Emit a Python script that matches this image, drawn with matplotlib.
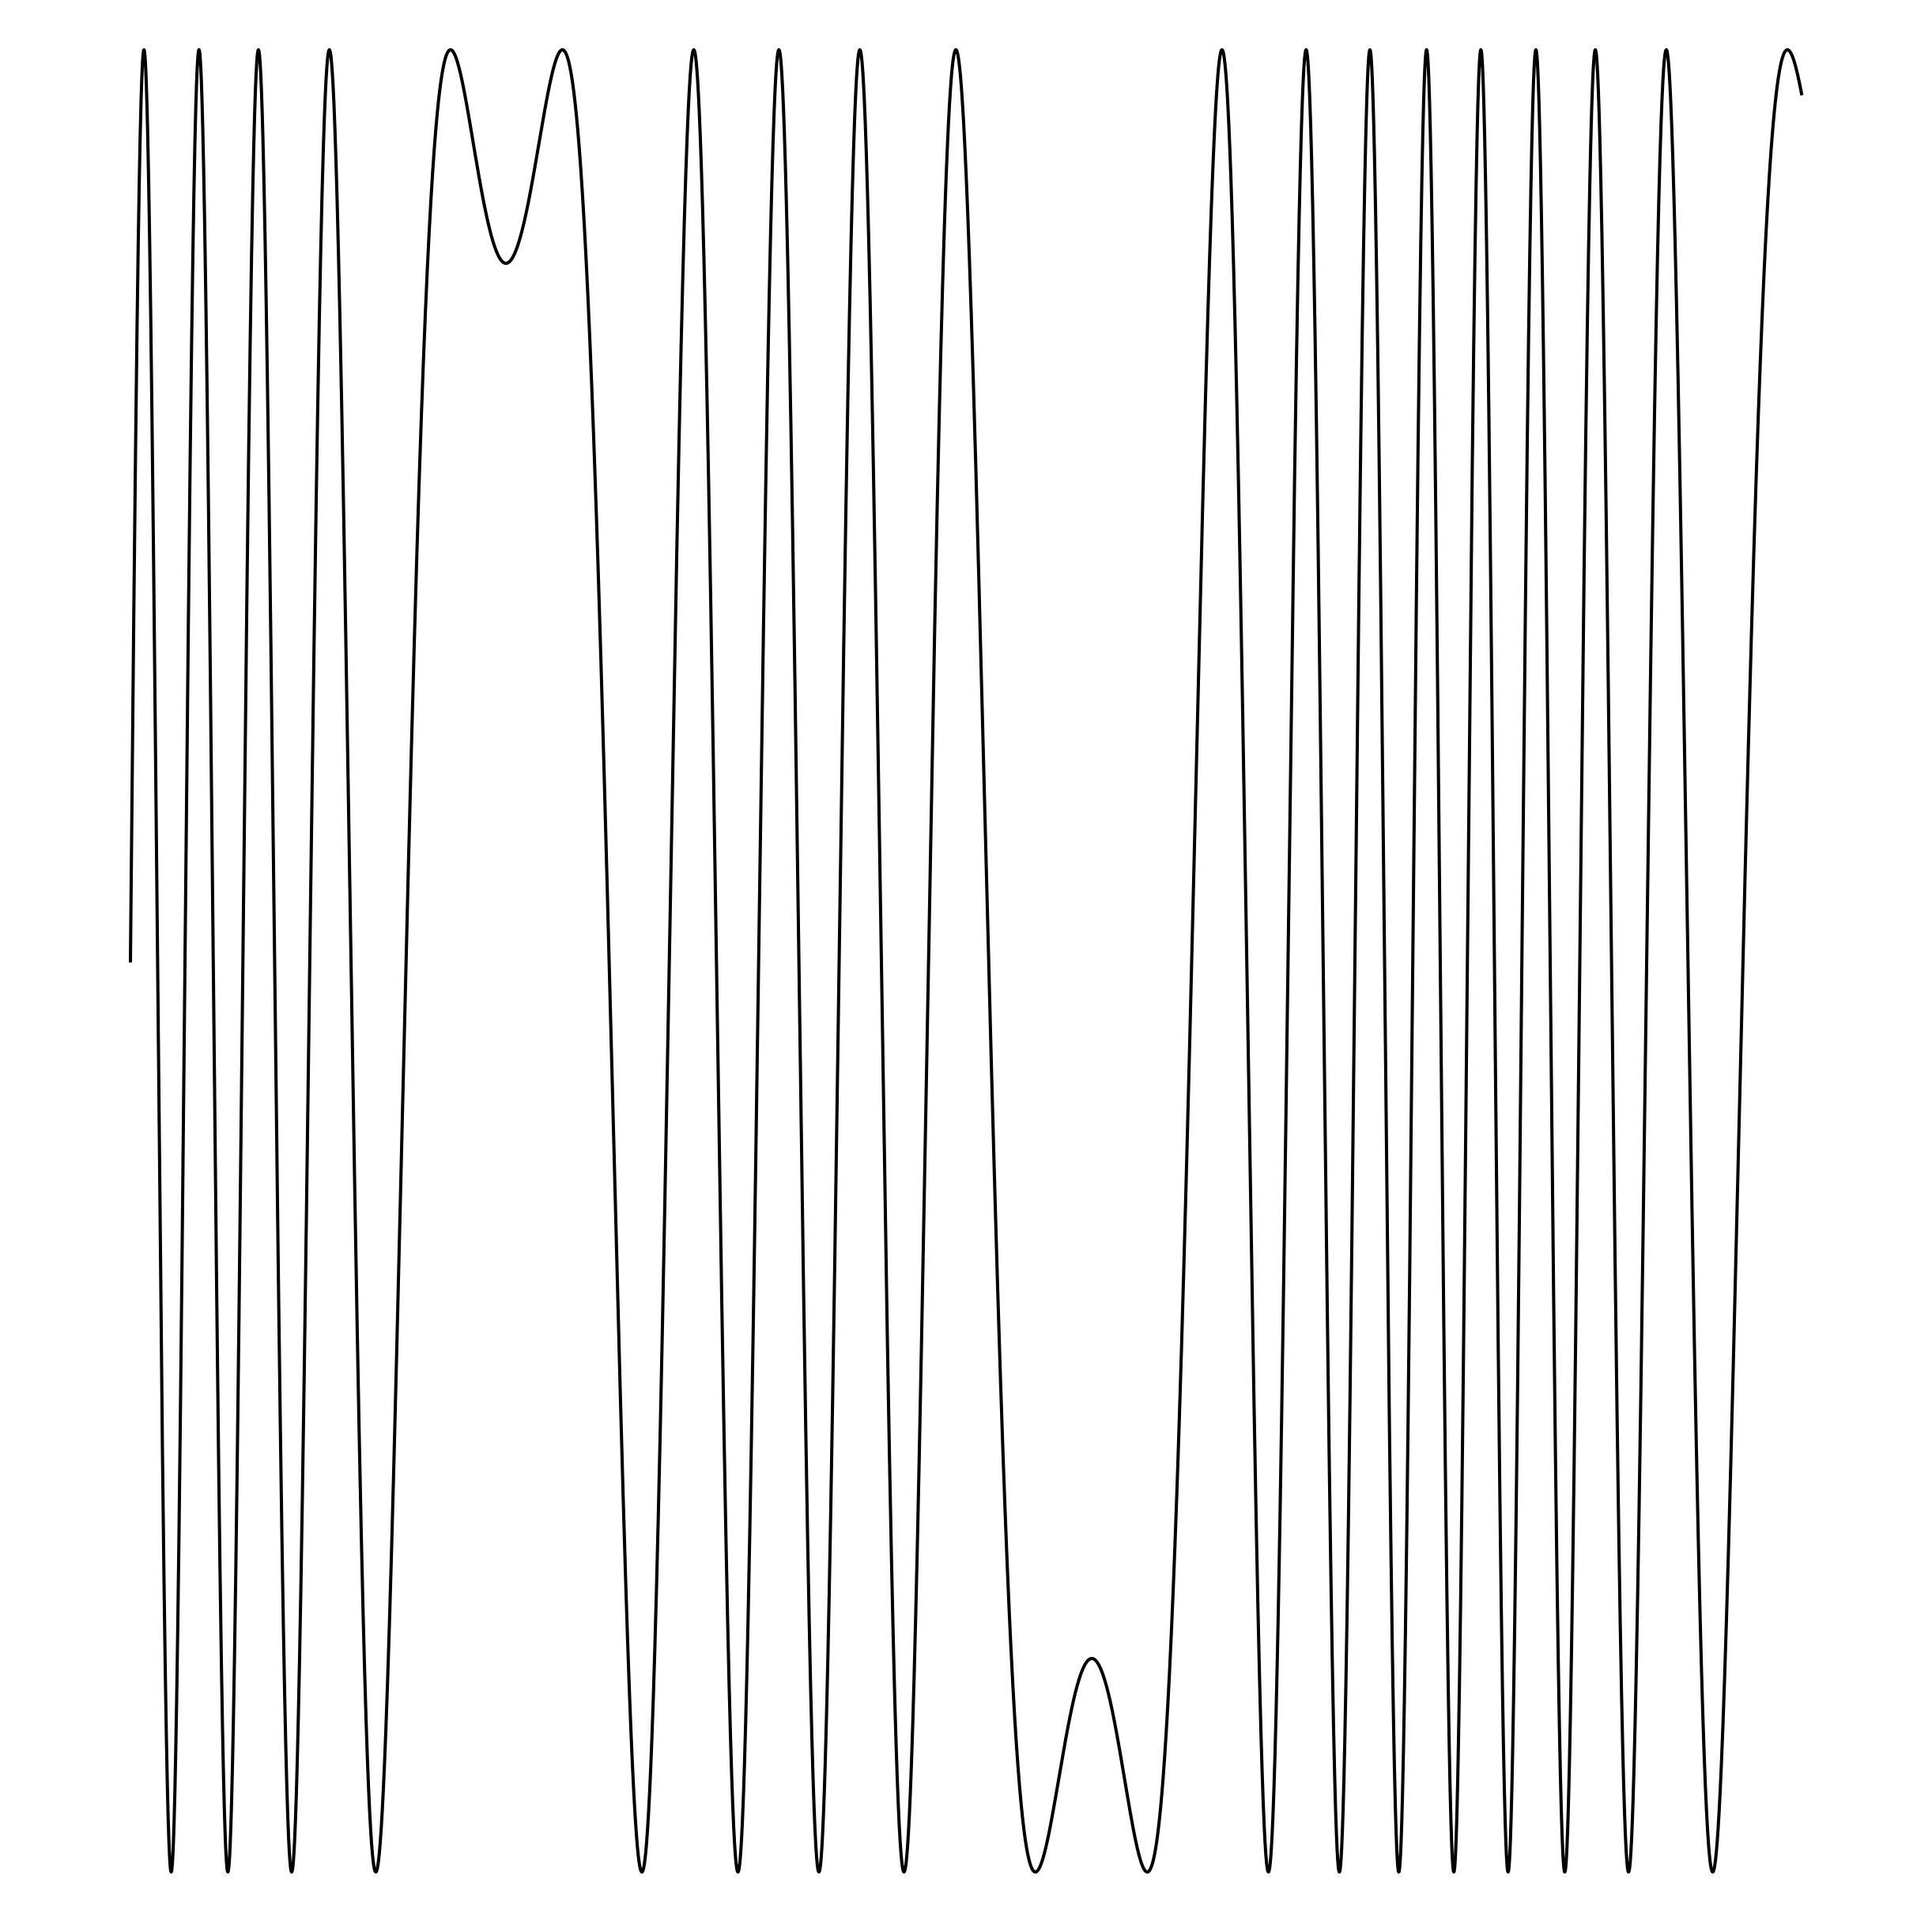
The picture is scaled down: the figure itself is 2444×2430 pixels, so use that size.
import numpy as np
import matplotlib
matplotlib.use("Agg")
import matplotlib.pyplot as plt

# frequency-modulated sine: y = sin(carrier * x + mod_index * sin(x))
x_start = 0.0
x_end = 2.5 * np.pi
carrier = 4.0
mod_index = 20.732
n_points = 20000

x = np.linspace(x_start, x_end, n_points)
y = np.sin(carrier * x + mod_index * np.sin(x))

fig = plt.figure(figsize=(24.44, 24.30), dpi=100)
# place the axes so the curve fills the same area as the reference
ax = fig.add_axes([165 / 2444, 62 / 2430, 2114 / 2444, 2305 / 2430])
ax.plot(x, y, color="black", linewidth=2.9, clip_on=False)
ax.set_xlim(x_start, x_end)
ax.set_ylim(-1, 1)
ax.axis("off")

plt.savefig("out.png", dpi=100, facecolor="white")
